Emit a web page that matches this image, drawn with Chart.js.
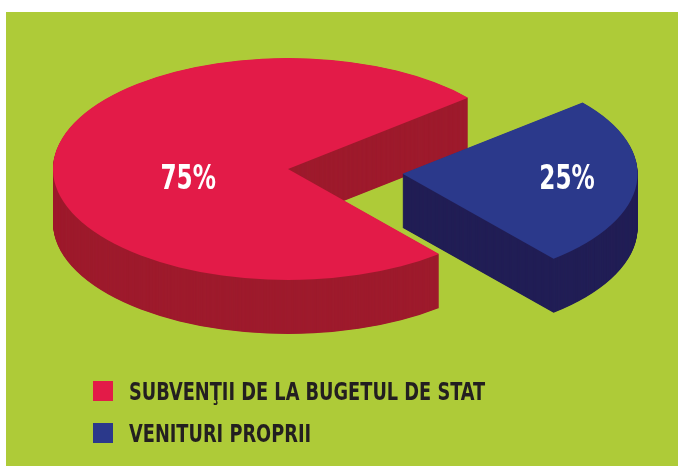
<!DOCTYPE html>
<html>
<head>
<meta charset="utf-8">
<script src="https://cdn.jsdelivr.net/npm/chart.js@4.4.1/dist/chart.umd.min.js"></script>
<style>
  html, body { margin: 0; padding: 0; background: #fff; }
  #wrap { position: relative; width: 678px; height: 466px; overflow: hidden; }
  #bg { position: absolute; left: 6px; top: 12px; right: 0; bottom: 0; background: #aecb38; }
  #pie { position: absolute; left: 0; top: 0; }
  #legend {
    position: absolute; left: 93px; top: 377px;
    font-family: "DejaVu Sans Condensed", "Liberation Sans Narrow", sans-serif;
    font-weight: bold; font-size: 25px; color: #231f20;
  }
  .item { display: flex; align-items: center; height: 28px; margin-bottom: 14px; white-space: nowrap; }
  .box { width: 20px; height: 20px; margin-right: 16px; flex: none; }
  .txt { display: inline-block; transform: scaleX(0.79); transform-origin: 0 50%; }
</style>
</head>
<body>
<div id="wrap">
  <div id="bg"></div>
  <canvas id="pie" width="678" height="466"></canvas>
  <div id="legend"></div>
</div>
<script>
// date
const categories = ['SUBVENŢII DE LA BUGETUL DE STAT', 'VENITURI PROPRII'];
const shares = [75, 25];
const shareLabels = ['75%', '25%'];

// culori: fata de sus / peretele lateral
const topColors = ['#e31b48', '#2b398b'];
const sideColors = ['#9e1b2d', '#221f56'];

// varful feliei (tine cont de offset-ul desenat de ArcElement)
function apexOf(arc) {
  const off = (arc.options.offset || 0) / 4;
  const mid = (arc.startAngle + arc.endAngle) / 2;
  return { x: arc.x + Math.cos(mid) * off, y: arc.y + Math.sin(mid) * off };
}

// pie "3D": turtim cercul si desenam peretii inainte de fetele de sus
const pie3d = {
  id: 'pie3d',
  beforeDatasetsDraw(chart, args, opts) {
    const ctx = chart.ctx;
    const arcs = chart.getDatasetMeta(0).data;
    const cx = arcs[0].x, cy = arcs[0].y;
    ctx.save();
    ctx.translate(cx, cy);
    ctx.scale(1, opts.tilt);
    ctx.translate(-cx, -cy);
    arcs.forEach(function(arc, i) {
      const p = apexOf(arc);
      ctx.fillStyle = sideColors[i];
      for (let d = opts.depth; d > 0; d -= 0.5) {
        const y = p.y + d / opts.tilt;
        ctx.beginPath();
        ctx.moveTo(p.x, y);
        ctx.arc(p.x, y, arc.outerRadius, arc.startAngle, arc.endAngle);
        ctx.closePath();
        ctx.fill();
      }
    });
  },
  afterDatasetsDraw(chart, args, opts) {
    const ctx = chart.ctx;
    ctx.restore();
    const arcs = chart.getDatasetMeta(0).data;
    arcs.forEach(function(arc, i) {
      const p = apexOf(arc);
      const pos = opts.labelPos[i];
      const x = p.x + pos[0] * arc.outerRadius;
      const y = arc.y + (p.y - arc.y) * opts.tilt + pos[1] * arc.outerRadius * opts.tilt;
      ctx.save();
      ctx.translate(x, y);
      ctx.scale(0.78, 1);
      ctx.fillStyle = '#ffffff';
      ctx.font = 'bold 33px "DejaVu Sans Condensed", "Liberation Sans Narrow", sans-serif';
      ctx.textAlign = 'center';
      ctx.textBaseline = 'middle';
      ctx.fillText(shareLabels[i], 0, 0);
      ctx.restore();
    });
  }
};

new Chart(document.getElementById('pie'), {
  type: 'pie',
  data: {
    labels: categories,
    datasets: [{
      data: shares,
      backgroundColor: topColors,
      borderWidth: 0,
      offset: [0, 460],
      hoverOffset: 0,
      clip: false
    }]
  },
  options: {
    responsive: false,
    animation: false,
    events: [],
    rotation: 140,
    cutout: '0%',
    radius: 235,
    layout: { padding: { left: 0, top: 0, right: 102, bottom: 128 } },
    plugins: {
      legend: { display: false },
      tooltip: { enabled: false },
      pie3d: { tilt: 0.472, depth: 54, labelPos: [[-0.425, 0.10], [0.70, 0.06]] }
    }
  },
  plugins: [pie3d]
});

// legenda
const legend = document.getElementById('legend');
categories.forEach(function(name, i) {
  const item = document.createElement('div');
  item.className = 'item';
  const box = document.createElement('span');
  box.className = 'box';
  box.style.background = topColors[i];
  const txt = document.createElement('span');
  txt.className = 'txt';
  txt.textContent = name;
  item.appendChild(box);
  item.appendChild(txt);
  legend.appendChild(item);
});
</script>
</body>
</html>
